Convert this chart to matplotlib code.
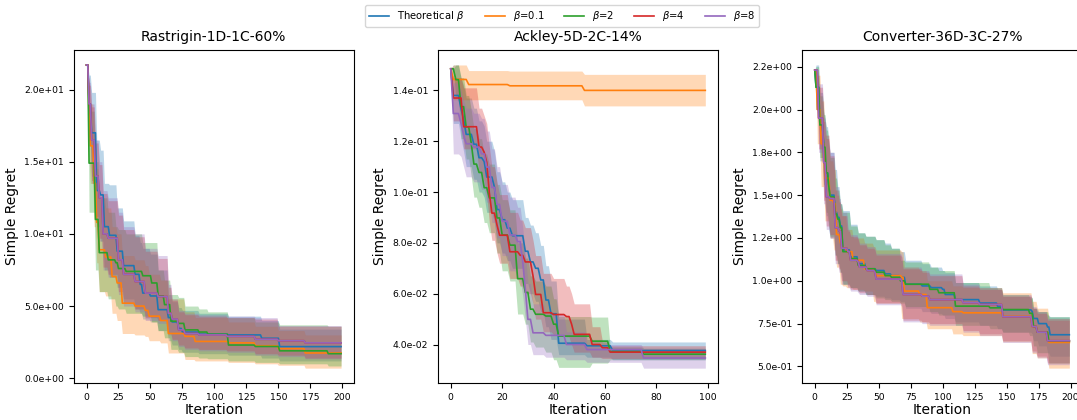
import numpy as np
import matplotlib
matplotlib.use('Agg')
import matplotlib.pyplot as plt
from matplotlib.ticker import FormatStrFormatter

# step breakpoints: iteration where a value starts, mean, band low/high

# ---- Rastrigin-1D-1C-60% (200 iterations)
ras_blue_x = [0, 2, 4, 8, 11, 14, 18, 24, 29, 38, 42, 44, 50, 56, 64, 67, 72, 75, 88, 111, 137, 151]
ras_blue_m = [21.7, 19.0, 17.0, 13.0, 12.7, 10.5, 9.9, 8.8, 7.8, 7.2, 6.5, 5.9, 5.7, 4.75, 4.2, 3.9, 3.45, 3.2, 3.05, 3.0, 2.77, 2.19]
ras_blue_hi = [21.7, 21.0, 19.8, 16.5, 15.8, 13.5, 13.4, 11.8, 10.9, 9.9, 9.4, 9.0, 8.6, 7.5, 5.8, 5.3, 4.9, 4.7, 4.5, 4.3, 4.0, 3.4]
ras_blue_lo = [21.7, 16.5, 14.0, 10.5, 9.5, 7.5, 7.0, 6.3, 5.5, 4.8, 4.5, 4.1, 3.9, 3.3, 2.6, 2.3, 2.0, 1.8, 1.7, 1.6, 1.4, 1.2]

ras_orange_x = [0, 2, 3, 6, 8, 10, 15, 20, 24, 28, 38, 46, 49, 58, 64, 77, 85, 111, 132, 150, 171]
ras_orange_m = [21.7, 18.0, 16.1, 13.5, 10.8, 8.9, 8.4, 7.05, 6.6, 5.2, 5.0, 4.7, 4.3, 4.0, 3.1, 2.9, 2.55, 2.45, 2.25, 2.05, 1.75]
ras_orange_hi = [21.7, 20.5, 19.0, 17.0, 14.5, 12.5, 11.8, 10.5, 10.0, 8.5, 8.2, 7.8, 7.2, 6.8, 5.5, 4.6, 4.2, 3.9, 3.6, 3.3, 3.0]
ras_orange_lo = [21.7, 15.5, 13.5, 10.5, 8.0, 6.0, 5.7, 4.5, 4.0, 3.1, 3.0, 2.9, 2.6, 2.45, 1.75, 1.3, 1.2, 1.1, 1.0, 0.9, 0.7]

ras_green_x = [0, 2, 7, 10, 17, 23, 25, 31, 44, 51, 56, 61, 66, 72, 77, 88, 95, 111, 132, 151, 189]
ras_green_m = [21.7, 14.9, 11.0, 8.7, 8.2, 8.0, 7.6, 7.4, 7.1, 6.6, 5.7, 5.1, 3.95, 3.8, 3.35, 3.2, 3.05, 2.3, 2.2, 1.9, 1.7]
ras_green_hi = [21.7, 18.5, 15.0, 12.5, 11.5, 10.5, 10.3, 10.0, 9.4, 9.4, 7.5, 6.8, 5.8, 5.6, 5.0, 4.8, 4.6, 4.2, 3.9, 3.7, 3.6]
ras_green_lo = [21.7, 11.5, 7.5, 6.0, 5.5, 5.0, 4.8, 4.5, 4.3, 3.9, 3.3, 2.8, 2.0, 1.8, 1.5, 1.4, 1.35, 1.2, 1.1, 1.0, 0.85]

ras_red_x = [0, 2, 4, 7, 10, 13, 17, 25, 29, 38, 46, 56, 64, 67, 72, 77, 88, 110, 132, 150, 171]
ras_red_m = [21.7, 19.0, 16.5, 14.0, 12.5, 10.0, 9.7, 8.2, 7.2, 6.7, 5.9, 5.66, 4.5, 4.1, 3.35, 3.1, 3.0, 2.9, 2.7, 2.6, 2.45]
ras_red_hi = [21.7, 20.3, 18.8, 16.3, 14.8, 12.8, 12.3, 11.3, 10.3, 9.8, 8.8, 8.3, 6.3, 5.4, 4.6, 4.4, 4.3, 4.2, 4.1, 3.6, 3.6]
ras_red_lo = [21.7, 17.2, 13.7, 11.2, 9.7, 7.7, 7.2, 6.0, 5.2, 4.8, 4.2, 4.0, 3.1, 2.7, 2.3, 2.1, 2.0, 1.9, 1.7, 1.6, 1.4]

ras_purple_x = [0, 2, 4, 7, 10, 13, 17, 25, 29, 38, 46, 56, 64, 67, 72, 77, 88, 110, 132, 150, 171]
ras_purple_m = [21.7, 19.0, 16.5, 14.0, 12.5, 10.0, 9.7, 8.2, 7.2, 6.7, 5.9, 5.66, 4.5, 4.1, 3.35, 3.1, 3.0, 2.9, 2.7, 2.6, 2.45]
ras_purple_hi = [21.7, 20.5, 19.0, 16.5, 15.0, 13.0, 12.5, 11.5, 10.5, 10.0, 9.0, 8.5, 6.5, 5.5, 4.7, 4.5, 4.4, 4.3, 4.2, 3.65, 3.65]
ras_purple_lo = [21.7, 17.0, 13.5, 11.0, 9.5, 7.5, 7.0, 5.8, 5.0, 4.6, 4.0, 3.8, 3.0, 2.6, 2.2, 2.0, 1.9, 1.8, 1.6, 1.5, 1.35]

# ---- Ackley-5D-2C-14% (100 iterations)
ack_blue_x = [0, 1, 4, 5, 6, 9, 11, 13, 14, 17, 18, 20, 22, 24, 29, 31, 33, 35, 37, 39, 42, 53, 63]
ack_blue_m = [0.1485, 0.138, 0.1327, 0.1287, 0.1227, 0.1188, 0.1135, 0.112, 0.1059, 0.1019, 0.0931, 0.0891, 0.0858, 0.0828, 0.0767, 0.0725, 0.070, 0.0654, 0.0575, 0.0521, 0.0405, 0.0395, 0.0376]
ack_blue_hi = [0.1485, 0.150, 0.145, 0.142, 0.137, 0.133, 0.128, 0.126, 0.120, 0.116, 0.108, 0.104, 0.100, 0.097, 0.090, 0.087, 0.084, 0.079, 0.071, 0.065, 0.050, 0.042, 0.041]
ack_blue_lo = [0.1485, 0.127, 0.121, 0.116, 0.110, 0.105, 0.100, 0.098, 0.092, 0.088, 0.080, 0.076, 0.073, 0.070, 0.064, 0.060, 0.057, 0.053, 0.047, 0.042, 0.036, 0.035, 0.034]

ack_orange_x = [0, 1, 7, 23, 52]
ack_orange_m = [0.1485, 0.1443, 0.1423, 0.1418, 0.140]
ack_orange_hi = [0.1485, 0.150, 0.1478, 0.1476, 0.1463]
ack_orange_lo = [0.1485, 0.1363, 0.1363, 0.1363, 0.1339]

ack_green_x = [0, 2, 4, 6, 8, 9, 11, 13, 15, 18, 20, 23, 26, 29, 31, 33, 37, 40, 42, 55, 62, 75]
ack_green_m = [0.1485, 0.1442, 0.1336, 0.1256, 0.119, 0.111, 0.1077, 0.1017, 0.0977, 0.0898, 0.0831, 0.0791, 0.0659, 0.0605, 0.0539, 0.0519, 0.0512, 0.048, 0.0433, 0.0413, 0.0373, 0.0362]
ack_green_hi = [0.1485, 0.150, 0.145, 0.138, 0.132, 0.125, 0.121, 0.115, 0.111, 0.103, 0.097, 0.093, 0.080, 0.074, 0.067, 0.065, 0.063, 0.058, 0.051, 0.0508, 0.039, 0.0385]
ack_green_lo = [0.1485, 0.137, 0.121, 0.113, 0.106, 0.098, 0.094, 0.088, 0.084, 0.076, 0.069, 0.065, 0.052, 0.048, 0.041, 0.039, 0.037, 0.034, 0.031, 0.0327, 0.034, 0.034]

ack_red_x = [0, 1, 5, 11, 13, 14, 15, 16, 18, 19, 23, 27, 29, 32, 33, 36, 40, 45, 47, 48, 55, 59, 62]
ack_red_m = [0.1485, 0.137, 0.1257, 0.1177, 0.1157, 0.1117, 0.0997, 0.0917, 0.087, 0.083, 0.0765, 0.0751, 0.0725, 0.067, 0.0597, 0.0525, 0.0518, 0.051, 0.048, 0.044, 0.040, 0.0387, 0.037]
ack_red_hi = [0.1485, 0.145, 0.141, 0.133, 0.130, 0.127, 0.118, 0.110, 0.104, 0.099, 0.092, 0.089, 0.086, 0.081, 0.075, 0.068, 0.066, 0.063, 0.060, 0.056, 0.047, 0.041, 0.0395]
ack_red_lo = [0.1485, 0.128, 0.117, 0.108, 0.104, 0.099, 0.088, 0.081, 0.076, 0.072, 0.066, 0.063, 0.060, 0.056, 0.050, 0.045, 0.044, 0.043, 0.040, 0.037, 0.035, 0.0345, 0.0345]

ack_purple_x = [0, 1, 4, 5, 6, 9, 12, 14, 16, 18, 20, 23, 26, 28, 29, 30, 32, 37, 45, 53, 75]
ack_purple_m = [0.1485, 0.1309, 0.127, 0.1224, 0.119, 0.1177, 0.115, 0.1098, 0.1018, 0.0951, 0.0885, 0.0831, 0.0805, 0.0725, 0.0619, 0.0499, 0.0446, 0.0436, 0.040, 0.038, 0.0347]
ack_purple_hi = [0.1485, 0.143, 0.140, 0.136, 0.133, 0.131, 0.129, 0.124, 0.117, 0.110, 0.103, 0.098, 0.094, 0.086, 0.076, 0.064, 0.056, 0.052, 0.045, 0.040, 0.0385]
ack_purple_lo = [0.1485, 0.115, 0.114, 0.110, 0.106, 0.104, 0.101, 0.096, 0.088, 0.082, 0.075, 0.069, 0.066, 0.059, 0.050, 0.040, 0.036, 0.035, 0.034, 0.033, 0.0307]

# ---- Converter-36D-3C-27% (200 iterations)
con_blue_x = [0, 1, 4, 7, 8, 9, 11, 12, 16, 18, 20, 22, 28, 34, 40, 48, 55, 60, 67, 71, 84, 91, 100, 102, 110, 129, 143, 147, 170, 171, 175, 182, 184]
con_blue_m = [2.23, 2.13, 1.91, 1.79, 1.69, 1.63, 1.55, 1.50, 1.40, 1.37, 1.32, 1.18, 1.14, 1.10, 1.07, 1.06, 1.04, 1.03, 1.02, 0.98, 0.97, 0.96, 0.95, 0.92, 0.89, 0.87, 0.85, 0.83, 0.82, 0.78, 0.75, 0.73, 0.685]
con_blue_hi = [2.23, 2.26, 2.1, 2.0, 1.95, 1.9, 1.8, 1.75, 1.65, 1.55, 1.45, 1.41, 1.33, 1.28, 1.26, 1.24, 1.22, 1.19, 1.17, 1.12, 1.10, 1.08, 1.06, 1.05, 0.99, 0.97, 0.95, 0.91, 0.90, 0.84, 0.82, 0.80, 0.79]
con_blue_lo = [2.23, 2.0, 1.7, 1.55, 1.45, 1.38, 1.3, 1.25, 1.15, 1.1, 1.05, 0.98, 0.96, 0.94, 0.92, 0.91, 0.90, 0.89, 0.88, 0.84, 0.82, 0.81, 0.80, 0.78, 0.76, 0.74, 0.72, 0.70, 0.69, 0.65, 0.62, 0.58, 0.56]

con_orange_x = [0, 2, 5, 8, 12, 15, 17, 20, 22, 25, 30, 39, 46, 48, 68, 70, 82, 88, 108, 116, 147, 170, 174, 183]
con_orange_m = [2.23, 2.0, 1.8, 1.6, 1.47, 1.45, 1.27, 1.22, 1.19, 1.17, 1.12, 1.07, 1.06, 1.03, 1.02, 0.94, 0.92, 0.843, 0.82, 0.813, 0.792, 0.733, 0.70, 0.64]
con_orange_hi = [2.23, 2.2, 2.05, 1.85, 1.7, 1.65, 1.5, 1.42, 1.38, 1.3, 1.25, 1.22, 1.2, 1.18, 1.17, 1.08, 1.06, 1.0, 0.97, 0.96, 0.93, 0.88, 0.84, 0.78]
con_orange_lo = [2.23, 1.8, 1.55, 1.35, 1.25, 1.18, 1.08, 0.98, 0.97, 0.96, 0.95, 0.94, 0.88, 0.87, 0.78, 0.78, 0.76, 0.72, 0.69, 0.68, 0.644, 0.575, 0.55, 0.49]

con_green_x = [0, 1, 4, 7, 9, 11, 12, 16, 18, 20, 22, 28, 34, 40, 48, 55, 60, 67, 71, 90, 97, 110, 137, 147, 168, 171, 174, 183]
con_green_m = [2.23, 2.13, 1.91, 1.78, 1.63, 1.55, 1.49, 1.39, 1.36, 1.31, 1.17, 1.13, 1.09, 1.07, 1.05, 1.03, 1.02, 1.0, 0.98, 0.95, 0.93, 0.852, 0.842, 0.832, 0.81, 0.733, 0.70, 0.647]
con_green_hi = [2.23, 2.25, 2.08, 1.97, 1.88, 1.8, 1.72, 1.6, 1.53, 1.45, 1.4, 1.32, 1.28, 1.26, 1.24, 1.21, 1.19, 1.12, 1.11, 1.08, 1.06, 0.99, 0.96, 0.92, 0.90, 0.84, 0.82, 0.79]
con_green_lo = [2.23, 2.0, 1.72, 1.56, 1.4, 1.32, 1.26, 1.15, 1.1, 1.05, 0.98, 0.96, 0.94, 0.92, 0.9, 0.89, 0.88, 0.87, 0.85, 0.82, 0.8, 0.74, 0.72, 0.70, 0.68, 0.62, 0.58, 0.52]

con_red_x = [0, 3, 7, 9, 12, 16, 19, 21, 26, 28, 34, 35, 41, 47, 48, 68, 69, 84, 90, 116, 129, 147, 170, 174, 182]
con_red_m = [2.23, 1.95, 1.69, 1.49, 1.48, 1.31, 1.29, 1.19, 1.17, 1.12, 1.11, 1.08, 1.06, 1.05, 1.01, 1.0, 0.92, 0.91, 0.89, 0.872, 0.862, 0.79, 0.733, 0.70, 0.65]
con_red_hi = [2.23, 2.13, 1.93, 1.83, 1.73, 1.53, 1.46, 1.38, 1.29, 1.26, 1.24, 1.21, 1.19, 1.18, 1.15, 1.14, 1.07, 1.05, 1.03, 0.97, 0.95, 0.91, 0.84, 0.81, 0.77]
con_red_lo = [2.23, 1.77, 1.47, 1.32, 1.27, 1.12, 1.07, 1.0, 0.97, 0.95, 0.94, 0.93, 0.92, 0.91, 0.87, 0.86, 0.77, 0.76, 0.75, 0.71, 0.69, 0.65, 0.59, 0.56, 0.52]

con_purple_x = [0, 3, 7, 9, 12, 16, 19, 21, 26, 28, 34, 35, 41, 47, 48, 68, 69, 84, 90, 116, 129, 147, 170, 174, 182]
con_purple_m = [2.23, 1.95, 1.69, 1.49, 1.48, 1.31, 1.29, 1.19, 1.17, 1.12, 1.11, 1.08, 1.06, 1.05, 1.01, 1.0, 0.92, 0.91, 0.89, 0.872, 0.862, 0.79, 0.733, 0.70, 0.65]
con_purple_hi = [2.23, 2.15, 1.95, 1.85, 1.75, 1.55, 1.48, 1.4, 1.3, 1.27, 1.25, 1.22, 1.2, 1.19, 1.16, 1.15, 1.08, 1.06, 1.04, 0.98, 0.96, 0.92, 0.85, 0.82, 0.78]
con_purple_lo = [2.23, 1.75, 1.45, 1.3, 1.25, 1.1, 1.05, 0.98, 0.96, 0.94, 0.93, 0.92, 0.91, 0.9, 0.86, 0.85, 0.76, 0.75, 0.74, 0.70, 0.68, 0.64, 0.58, 0.55, 0.51]

labels = ['Theoretical $\\beta$', '$\\beta$=0.1', '$\\beta$=2', '$\\beta$=4', '$\\beta$=8']
colors = ['#1f77b4', '#ff7f0e', '#2ca02c', '#d62728', '#9467bd']
titles = ['Rastrigin-1D-1C-60%', 'Ackley-5D-2C-14%', 'Converter-36D-3C-27%']
n_iters = [200, 100, 200]

panels = [
    [(ras_blue_x, ras_blue_m, ras_blue_lo, ras_blue_hi),
     (ras_orange_x, ras_orange_m, ras_orange_lo, ras_orange_hi),
     (ras_green_x, ras_green_m, ras_green_lo, ras_green_hi),
     (ras_red_x, ras_red_m, ras_red_lo, ras_red_hi),
     (ras_purple_x, ras_purple_m, ras_purple_lo, ras_purple_hi)],
    [(ack_blue_x, ack_blue_m, ack_blue_lo, ack_blue_hi),
     (ack_orange_x, ack_orange_m, ack_orange_lo, ack_orange_hi),
     (ack_green_x, ack_green_m, ack_green_lo, ack_green_hi),
     (ack_red_x, ack_red_m, ack_red_lo, ack_red_hi),
     (ack_purple_x, ack_purple_m, ack_purple_lo, ack_purple_hi)],
    [(con_blue_x, con_blue_m, con_blue_lo, con_blue_hi),
     (con_orange_x, con_orange_m, con_orange_lo, con_orange_hi),
     (con_green_x, con_green_m, con_green_lo, con_green_hi),
     (con_red_x, con_red_m, con_red_lo, con_red_hi),
     (con_purple_x, con_purple_m, con_purple_lo, con_purple_hi)],
]


def hold(bx, by, n):
    # best-so-far curves: value stays until the next recorded step
    idx = np.searchsorted(bx, np.arange(n), side='right') - 1
    return np.asarray(by)[idx]


fig = plt.figure(figsize=(10.77, 4.2), dpi=100)
lefts = [0.0685, 0.4067, 0.7447]
axes = [fig.add_axes([l, 0.0874, 0.26, 0.794]) for l in lefts]

for ax, series, title, n in zip(axes, panels, titles, n_iters):
    it = np.arange(n)
    for (bx, m, lo, hi), c, lab in zip(series, colors, labels):
        ax.plot(it, hold(bx, m, n), color=c, lw=1.2, label=lab)
        ax.fill_between(it, hold(bx, lo, n), hold(bx, hi, n), color=c, alpha=0.3, lw=0)
    ax.set_title(title, fontsize=10)
    ax.set_xlabel('Iteration', fontsize=10, labelpad=1)
    ax.set_ylabel('Simple Regret', fontsize=10)
    ax.yaxis.set_major_formatter(FormatStrFormatter('%.1e'))
    ax.tick_params(labelsize=6.7)

handles, labs = axes[0].get_legend_handles_labels()
fig.legend(handles, labs, loc='upper center', bbox_to_anchor=(0.522, 1.0), ncol=5,
           fontsize=7.2, frameon=True)

fig.savefig('out.png', dpi=100)
